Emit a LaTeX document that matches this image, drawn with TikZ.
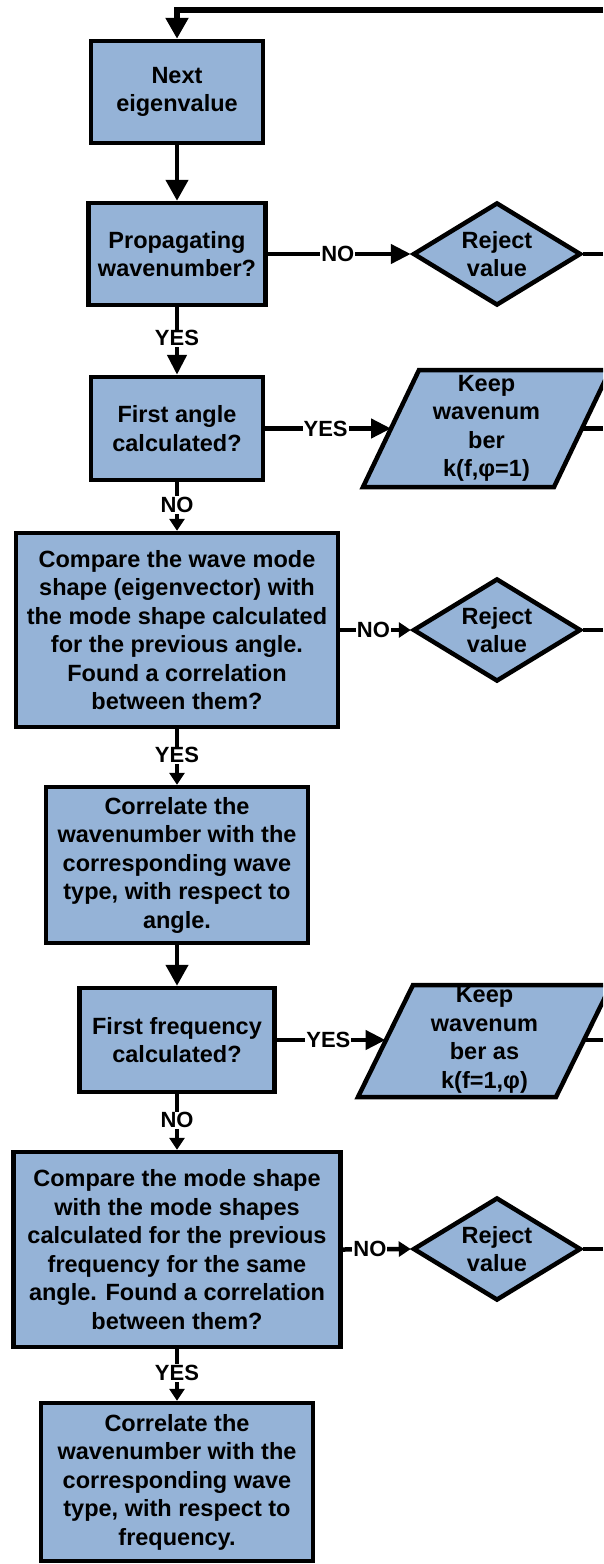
\documentclass[tikz,border=0pt]{standalone}
\usepackage{fontspec}
\setmainfont{Liberation Sans}
\usetikzlibrary{arrows.meta,shapes.geometric}
\definecolor{boxblue}{RGB}{149,179,215}
\begin{document}
\begin{tikzpicture}[x=1pt,y=-1pt,
  txt/.style={font=\bfseries\fontsize{23.5}{28.5}\selectfont},
  box/.style={txt,draw=black,line width=4.5pt,fill=boxblue,align=center,inner sep=0pt},
  dia/.style={box,diamond,aspect=1.63,minimum width=168pt,minimum height=103pt},
  ptext/.style={txt,align=center,inner sep=0pt},
  para/.style={draw=black,line width=4.5pt,fill=boxblue,line join=miter},
  conn/.style={draw=black,line width=4.5pt},
  lab/.style={fill=white,inner sep=1pt,font=\bfseries\fontsize{22}{24}\selectfont},
  tipL/.style={-{Triangle[length=21pt,width=22pt]}},
  tipM/.style={-{Triangle[length=20pt,width=19pt]}},
  tipS/.style={-{Triangle[length=12pt,width=15pt]}},
]
\useasboundingbox (0,0) rectangle (603,1564);
\clip (0,0) rectangle (603,1564);
\fill[white] (0,0) rectangle (603,1564);

% boxes
\node[box,minimum width=172pt,minimum height=102pt] (b1) at (177,92) {Next\\eigenvalue};
\node[box,minimum width=177pt,minimum height=102pt] (b2) at (177,254) {Propagating\\wavenumber?};
\node[dia] (d1) at (497,254) {Reject\\value};
\node[box,minimum width=172pt,minimum height=103pt] (b3) at (177,428.5) {First angle\\calculated?};
\draw[para] (363,487) -- (419,370) -- (610,370) -- (554,487) -- cycle;
\node[ptext] (p1) at (486.5,428.5) {Keep\\wavenum\\ber\\k(f,φ=1)};
\coordinate (p1w) at (391,428.5);
\coordinate (p1e) at (582,428.5);
\node[box,minimum width=322pt,minimum height=194pt] (b4) at (177,630) {Compare the wave mode\\shape (eigenvector) with\\the mode shape calculated\\for the previous angle.\\Found a correlation\\between them?};
\node[dia] (d2) at (497,630) {Reject\\value};
\node[box,minimum width=262pt,minimum height=156pt] (b5) at (177,865) {Correlate the\\wavenumber with the\\corresponding wave\\type, with respect to\\angle.};
\node[box,minimum width=195pt,minimum height=104pt] (b6) at (177,1040) {First frequency\\calculated?};
\draw[para] (358,1097) -- (413,985) -- (611,985) -- (556,1097) -- cycle;
\node[ptext] (p2) at (484.5,1040) {Keep\\wavenum\\ber as\\k(f=1,φ)};
\coordinate (p2w) at (385.5,1040);
\coordinate (p2e) at (583.5,1040);
\node[box,minimum width=327pt,minimum height=195pt] (b7) at (177,1249.5) {Compare the mode shape\\with the mode shapes\\calculated for the previous\\frequency for the same\\angle. Found a correlation\\between them?};
\node[dia] (d3) at (497,1249) {Reject\\value};
\node[box,minimum width=272pt,minimum height=158pt] (b8) at (177,1482) {Correlate the\\wavenumber with the\\corresponding wave\\type, with respect to\\frequency.};

% connectors
\coordinate (edge) at (603,0);
\coordinate (top) at (603,10);
\draw[conn,tipL,line width=5.5pt] (top) -- (top -| b1.north) -- (b1.north);
\draw[conn,tipL] (b1.south) -- (b2.north);
\draw[conn,tipM] (b2.east) -- node[lab,pos=.49]{NO} (d1.west);
\draw[conn] (d1.east) -- (d1.east -| edge);
\draw[conn,tipM] (b2.south) -- node[lab,pos=.46]{YES} (b3.north);
\draw[conn,tipM] (b3.east) -- node[lab,pos=.48]{YES} (p1w);
\draw[conn] (p1e) -- (p1e -| edge);
\draw[conn,tipS] (b3.south) -- node[lab,pos=.47]{NO} (b4.north);
\draw[conn,tipS] (b4.east) -- node[lab,pos=.47]{NO} (d2.west);
\draw[conn] (d2.east) -- (d2.east -| edge);
\draw[conn,tipS] (b4.south) -- node[lab,pos=.47]{YES} (b5.north);
\draw[conn,tipL] (b5.south) -- (b6.north);
\draw[conn,tipM] (b6.east) -- node[lab,pos=.475]{YES} (p2w);
\draw[conn] (p2e) -- (p2e -| edge);
\draw[conn,tipS] (b6.south) -- node[lab,pos=.47]{NO} (b7.north);
\draw[conn,tipS] (b7.east) -- node[lab,pos=.4]{NO} (d3.west);
\draw[conn] (d3.east) -- (d3.east -| edge);
\draw[conn,tipS] (b7.south) -- node[lab,pos=.46]{YES} (b8.north);
\end{tikzpicture}
\end{document}
